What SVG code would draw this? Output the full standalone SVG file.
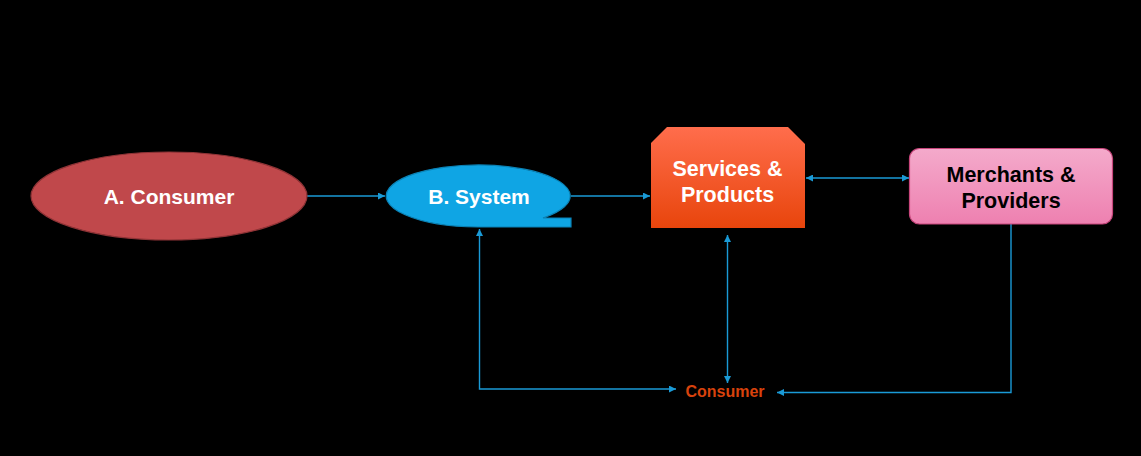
<svg xmlns="http://www.w3.org/2000/svg" width="1141" height="456" viewBox="0 0 1141 456">
<style>
.conn{fill:none;stroke:#1a9ad6;stroke-width:1.4}
.lbl{font-family:"Liberation Sans",Arial,sans-serif;font-weight:bold;text-anchor:middle}
</style>
<defs>
<marker id="ah" viewBox="0 0 10 10" refX="10" refY="5" markerWidth="7" markerHeight="7" markerUnits="userSpaceOnUse" orient="auto-start-reverse">
<path d="M0,0 L10,5 L0,10 Z" fill="#1a9ad6"/>
</marker>
<linearGradient id="gs" x1="0" y1="0" x2="0" y2="1">
<stop offset="0" stop-color="#ff6d4c"/>
<stop offset="1" stop-color="#e8450c"/>
</linearGradient>
<linearGradient id="gm" x1="0" y1="0" x2="0" y2="1">
<stop offset="0" stop-color="#f4aacb"/>
<stop offset="1" stop-color="#ee80b0"/>
</linearGradient>
</defs>
<rect width="1141" height="456" fill="#000"/>
<g id="connectors">
<line class="conn" x1="307" y1="196" x2="385" y2="196" marker-end="url(#ah)"/>
<line class="conn" x1="571" y1="196" x2="650" y2="196" marker-end="url(#ah)"/>
<line class="conn" x1="806" y1="178" x2="909" y2="178" marker-start="url(#ah)" marker-end="url(#ah)"/>
<line class="conn" x1="727.5" y1="235" x2="727.5" y2="383" marker-start="url(#ah)" marker-end="url(#ah)"/>
<polyline class="conn" points="676,389 479.5,389 479.5,229" marker-start="url(#ah)" marker-end="url(#ah)"/>
<polyline class="conn" points="1011,224 1011,392.5 777,392.5" marker-end="url(#ah)"/>
</g>
<g id="node-a">
<ellipse cx="169" cy="196" rx="138" ry="44" fill="#c0484b" stroke="#8e3336" stroke-width="1.2"/>
<text class="lbl" x="169" y="204" font-size="21" fill="#fff">A. Consumer</text>
</g>
<g id="node-b">
<path d="M478,227 A92,31 0 1 1 543,218 L571,218 L571,227 Z" fill="#0fa5e4" stroke="#0b82b5" stroke-width="1.2"/>
<text class="lbl" x="479" y="204" font-size="21" fill="#fff">B. System</text>
</g>
<g id="node-services">
<path d="M667,127 L788,127 L805,144 L805,228 L651,228 L651,143 Z" fill="url(#gs)"/>
<text class="lbl" x="727.5" y="176" font-size="21.5" fill="#fff">Services &amp;</text>
<text class="lbl" x="727.5" y="202" font-size="21.5" fill="#fff">Products</text>
</g>
<g id="node-merchants">
<rect x="909.5" y="148.5" width="203" height="75.5" rx="10" fill="url(#gm)" stroke="#c8467c" stroke-width="1.2"/>
<text class="lbl" x="1011" y="182" font-size="21.5" fill="#000">Merchants &amp;</text>
<text class="lbl" x="1011" y="208" font-size="21.5" fill="#000">Providers</text>
</g>
<g id="node-consumer">
<text class="lbl" x="725" y="397" font-size="16" fill="#d8420c">Consumer</text>
</g>
</svg>
